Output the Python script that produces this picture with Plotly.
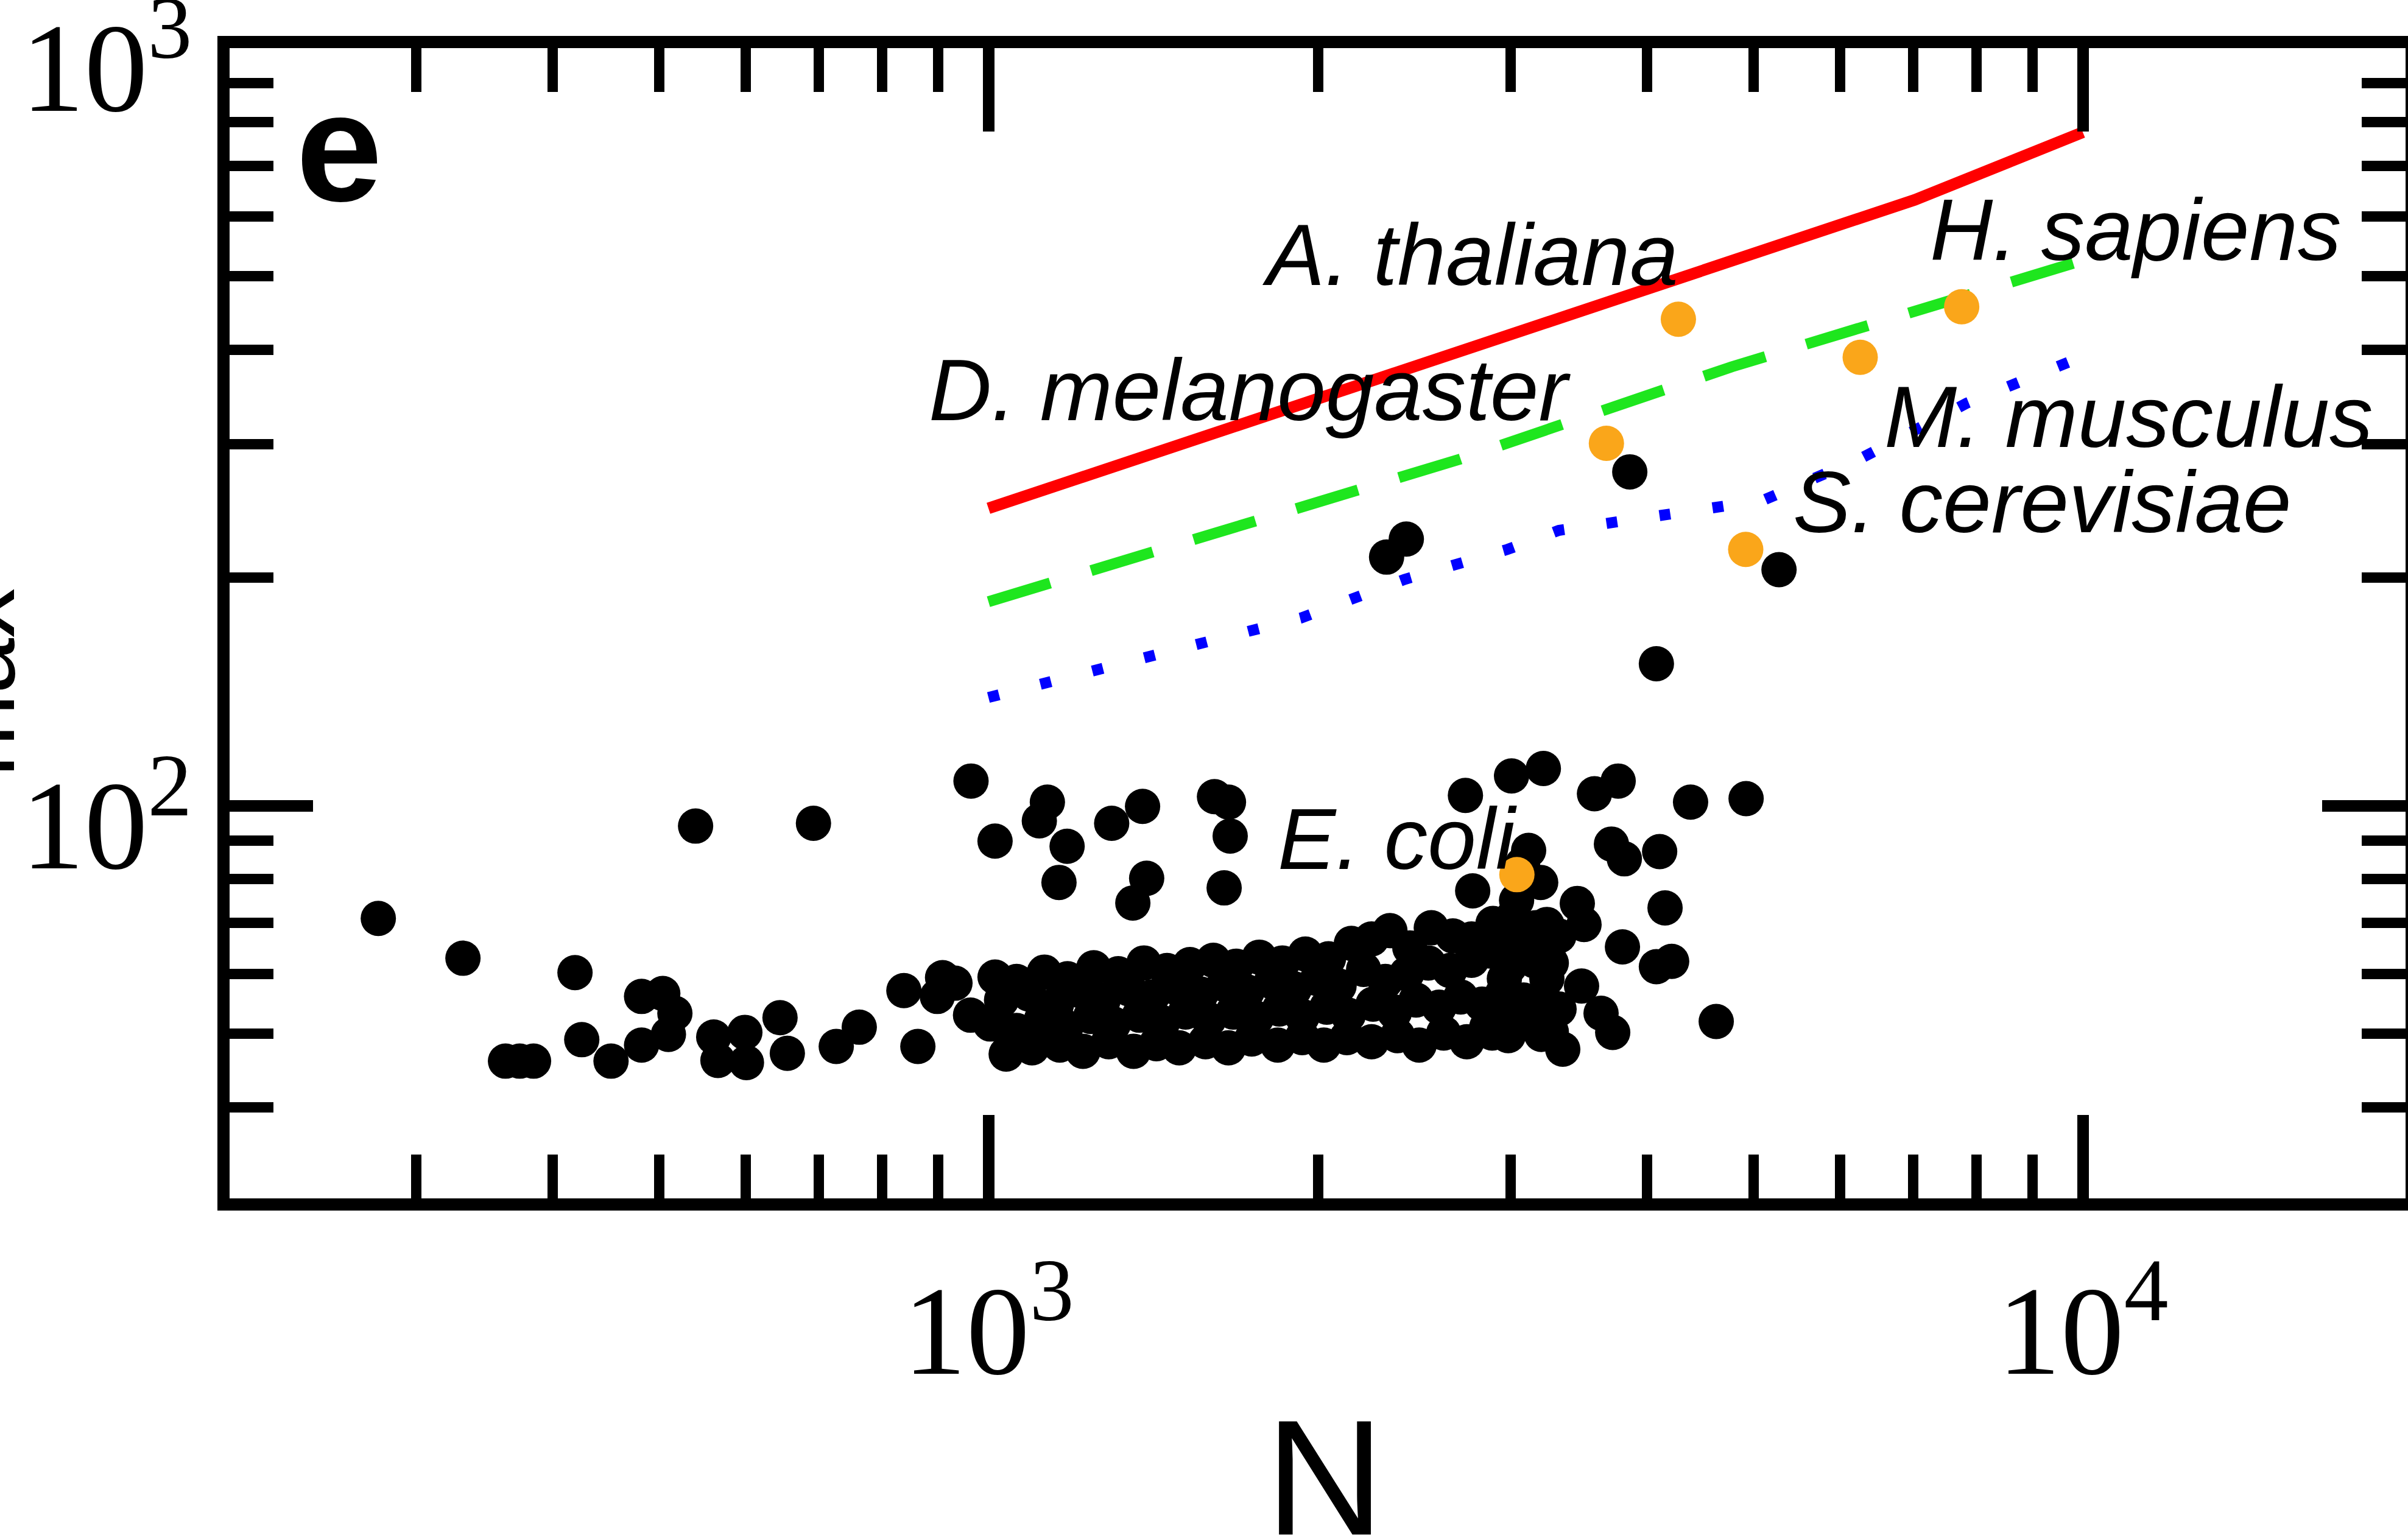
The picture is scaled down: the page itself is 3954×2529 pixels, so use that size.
import plotly.graph_objects as go

# ---------------- data ----------------
# black points: N (network size) and k_max
N_black = [
    277, 331, 419, 540, 692, 482, 504, 517, 510, 482, 425, 452, 362, 373, 384,
    561, 566, 599, 601, 645, 655, 726, 762, 837, 862, 898, 908,
    964, 1014, 1132, 1113, 1180, 1160, 1296, 1383, 1609, 1657, 1663, 1395, 1355,
    1642, 2728, 2770,
    3006, 3214, 3579, 3762, 4381, 4924, 3709, 3811, 4105, 3116, 4152, 3452, 3501,
    3796, 4077, 4210, 3483, 3629, 3719, 4624, 3201, 3348,
    3076, 3038, 3196, 3238, 2999, 3155, 2961, 3238, 3116, 2961, 3322, 2886,
    2311, 2409, 3855, 5277, 4077,
    1014, 1061, 1125, 1181, 1248, 1314, 1387, 1456, 1528, 1605, 1684, 1768, 1856,
    1948, 2045, 2146, 2239, 2327, 2427, 2539, 2657, 2763, 2891, 3014, 3164, 3321,
    1028, 1089, 1154, 1212, 1273, 1344, 1410, 1480, 1564, 1642, 1723, 1814, 1904,
    1999, 2091, 2202, 2305, 2411, 2523, 2640, 2763, 2872, 2995, 3123, 3268,
    1004, 1061, 1118, 1177, 1240, 1301, 1374, 1442, 1514, 1590, 1673, 1757, 1844,
    1935, 2038, 2132, 2246, 2350, 2459, 2581, 2701, 2825, 2947, 3083, 3216,
    1038, 1096, 1162, 1220, 1288, 1357, 1424, 1494, 1579, 1657, 1740, 1838, 1935,
    2025, 2126, 2239, 2365, 2475, 2606, 2736, 2853, 2985, 3123, 3268,
    932, 963,
]
k_black = [
    71.0, 62.9, 60.2, 94.0, 94.8, 56.0, 56.5, 53.2, 49.9, 48.3, 49.1, 46.0, 46.0, 46.0, 46.0,
    49.5, 46.1, 50.2, 45.8, 52.5, 47.1, 48.1, 51.0, 57.0, 48.1, 56.0, 59.3,
    107.8, 89.8, 101.1, 95.5, 88.4, 79.2, 94.8, 99.8, 102.8, 101.1, 91.2, 80.2, 74.4,
    77.9, 103.2, 77.2,
    109.5, 112.0, 103.7, 107.8, 101.1, 102.2, 89.0, 85.1, 87.0, 87.3, 73.3, 74.3, 69.7,
    65.1, 61.3, 62.3, 57.8, 53.2, 50.2, 51.9, 49.9, 47.7,
    83.7, 75.0, 79.2, 69.7, 67.2, 62.4, 59.1, 59.1, 54.9, 51.9, 53.9, 50.1,
    213, 225, 276, 205, 154,
    59.4, 58.6, 60.3, 59.1, 61.1, 60.0, 62.0, 60.6, 61.7, 62.5, 61.4, 63.1, 62.0,
    63.7, 62.8, 65.8, 66.7, 68.4, 64.9, 69.0, 67.3, 66.7, 69.9, 71.3, 69.0, 67.3,
    55.4, 56.4, 54.7, 57.0, 55.4, 57.3, 55.9, 57.6, 56.4, 58.1, 56.8, 58.6, 57.3,
    59.1, 57.8, 60.8, 58.6, 60.0, 62.0, 60.6, 62.5, 64.3, 61.4, 63.7, 62.0,
    51.5, 50.5, 52.2, 51.0, 52.7, 51.5, 52.9, 51.7, 53.4, 52.2, 53.4, 52.4, 53.9,
    52.7, 54.2, 52.9, 54.7, 53.4, 55.4, 54.2, 55.9, 54.7, 56.4, 55.4, 53.9,
    47.0, 47.9, 48.3, 47.4, 48.8, 47.4, 48.5, 47.9, 48.8, 47.9, 49.2, 48.3, 49.4,
    48.3, 49.4, 48.8, 49.7, 48.3, 50.1, 48.8, 51.0, 49.7, 51.5, 50.3,
    58.3, 52.9,
]

# highlighted organisms
species = ["E. coli", "D. melanogaster", "A. thaliana", "S. cerevisiae", "M. musculus", "H. sapiens"]
N_species = [3040, 3670, 4270, 4920, 6260, 7750]
k_species = [81.1, 301, 439, 218, 391, 456]

# model curves
N_red = [1000, 3010, 5020, 7020, 10000]
k_red = [247, 419, 539, 631, 775]
N_green = [1000, 2700, 4780, 10000]
k_green = [186, 287, 380, 525]
N_blue = [1000, 1550, 1930, 2400, 2980, 3320, 5100, 6280, 7830, 10000]
k_blue = [139, 163, 177, 199, 218, 231, 253, 288, 340, 392]

x_major = [1000, 10000]
x_major_text = ["10<sup>3</sup>", "10<sup>4</sup>"]
x_minor = [300, 400, 500, 600, 700, 800, 900, 2000, 3000, 4000, 5000, 6000, 7000, 8000, 9000]
y_major = [100, 1000]
y_major_text = ["10<sup>2</sup>", "10<sup>3</sup>"]
y_minor = [40, 50, 60, 70, 80, 90, 200, 300, 400, 500, 600, 700, 800, 900]

# ---------------- layout geometry ----------------
W, H = 3954, 2529
ML, MR, MT, MB = 377, 4, 79, 561
PW, PH = W - ML - MR, H - MT - MB


def px(X):
    return (X - ML) / PW


def py(Y):
    return (H - MB - Y) / PH


fig = go.Figure()
fig.add_trace(go.Scatter(x=N_red, y=k_red, mode="lines",
                         line=dict(color="#FF0000", width=19)))
fig.add_trace(go.Scatter(x=N_green, y=k_green, mode="lines",
                         line=dict(color="#1EE61E", width=18, dash="106px,70px")))
fig.add_trace(go.Scatter(x=N_blue, y=k_blue, mode="lines",
                         line=dict(color="#0000FF", width=18, dash="18px,70px")))
fig.add_trace(go.Scatter(x=N_black, y=k_black, mode="markers",
                         marker=dict(color="black", size=58, line=dict(width=0))))
fig.add_trace(go.Scatter(x=N_species, y=k_species, mode="markers", text=species,
                         marker=dict(color="#FAA61A", size=58, line=dict(width=0))))

axis_common = dict(
    type="log", showline=True, linewidth=20, linecolor="black", mirror="allticks",
    ticks="inside", tickcolor="black", ticklen=137, tickwidth=19,
    showgrid=False, zeroline=False, ticklabeloverflow="allow", automargin=False,
    tickfont=dict(family="Liberation Serif", size=208, color="black"),
)
fig.update_xaxes(**axis_common, range=[2.3066, 4.2949], tickmode="array",
                 tickvals=x_major, ticktext=x_major_text, ticklabelstandoff=18,
                 minor=dict(tickmode="array", tickvals=x_minor, ticks="inside",
                            ticklen=72, tickwidth=17, tickcolor="black", showgrid=False))
fig.update_yaxes(**axis_common, range=[1.4815, 3.0005], tickmode="array",
                 tickvals=y_major, ticktext=y_major_text, ticklabelshift=30,
                 minor=dict(tickmode="array", tickvals=y_minor, ticks="inside",
                            ticklen=72, tickwidth=17, tickcolor="black", showgrid=False))

annotations = []
lab_fs = 143
labels = [
    ("A. thaliana", 2070, 468),
    ("D. melanogaster", 1523, 690),
    ("H. sapiens", 3167, 427),
    ("M. musculus", 3092, 734),
    ("S. cerevisiae", 2942, 874),
    ("E. coli", 2096, 1427),
]
for txt, X, Yb in labels:
    annotations.append(dict(
        text=f"<i>{txt}</i>", xref="paper", yref="paper",
        x=px(X), y=py(Yb - 0.3465 * lab_fs), xanchor="left", yanchor="middle",
        showarrow=False, font=dict(family="Liberation Sans", size=lab_fs, color="black")))

annotations.append(dict(
    text="<b>e</b>", xref="paper", yref="paper", x=px(484), y=py(330 - 0.3465 * 255),
    xanchor="left", yanchor="middle", showarrow=False,
    font=dict(family="Liberation Sans", size=255, color="black")))
annotations.append(dict(
    text="N", xref="paper", yref="paper", x=px(2175), y=py(2520 - 0.3465 * 270),
    xanchor="center", yanchor="middle", showarrow=False,
    font=dict(family="Liberation Sans", size=270, color="black")))
annotations.append(dict(
    text="k<sub>max</sub>", xref="paper", yref="paper", x=px(-91), y=py(1180),
    xanchor="center", yanchor="middle", textangle=-90, showarrow=False,
    font=dict(family="Liberation Sans", size=235, color="black")))

fig.update_layout(
    width=W, height=H, margin=dict(l=ML, r=MR, t=MT, b=MB, pad=0, autoexpand=False),
    paper_bgcolor="white", plot_bgcolor="white", showlegend=False,
    annotations=annotations,
)
fig.write_html("out.html")
